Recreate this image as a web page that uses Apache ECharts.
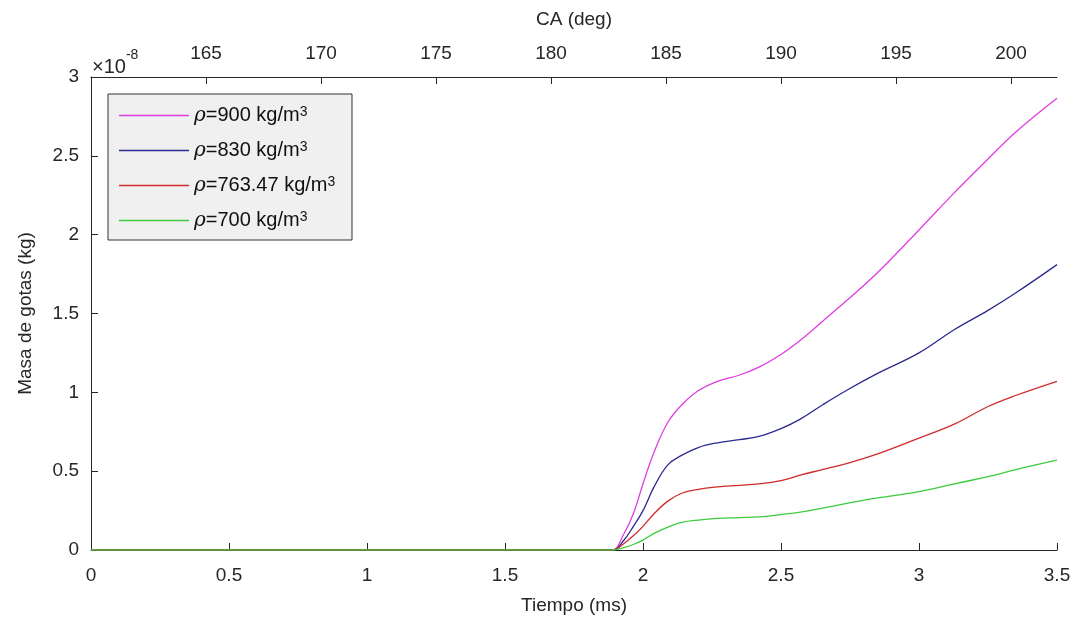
<!DOCTYPE html>
<html>
<head>
<meta charset="utf-8">
<script src="https://cdn.jsdelivr.net/npm/echarts@6/dist/echarts.min.js"></script>
<style>
html, body { margin: 0; padding: 0; background: #fff; }
#chart { width: 1078px; height: 628px; }
</style>
</head>
<body>
<div id="chart"></div>
<script>
// time (ms) and droplet mass, in units of 1e-8 kg
var tiempo = [0, 1.85, 1.89, 1.93, 1.965, 2.0, 2.04, 2.09, 2.14, 2.2, 2.27, 2.35, 2.42, 2.5, 2.57, 2.65, 2.74, 2.85, 3.0, 3.13, 3.25, 3.35, 3.5];
var rho900 = [0, 0, 0, 0.1, 0.23, 0.42, 0.62, 0.81, 0.92, 1.01, 1.07, 1.11, 1.16, 1.24, 1.33, 1.45, 1.585, 1.76, 2.03, 2.27, 2.48, 2.65, 2.865];
var rho830 = [0, 0, 0, 0.06, 0.15, 0.25, 0.40, 0.54, 0.60, 0.65, 0.68, 0.70, 0.72, 0.77, 0.83, 0.92, 1.015, 1.12, 1.25, 1.40, 1.52, 1.63, 1.81];
var rho763 = [0, 0, 0, 0.04, 0.09, 0.15, 0.23, 0.31, 0.36, 0.385, 0.40, 0.41, 0.42, 0.44, 0.475, 0.51, 0.55, 0.61, 0.71, 0.80, 0.91, 0.98, 1.07];
var rho700 = [0, 0, 0, 0.015, 0.035, 0.063, 0.105, 0.145, 0.175, 0.19, 0.20, 0.205, 0.21, 0.225, 0.24, 0.265, 0.296, 0.33, 0.37, 0.42, 0.465, 0.51, 0.57];
var nombres = ['900', '830', '763.47', '700'];
var colores = ['#e03ce0', '#2a2a90', '#d02a2a', '#3ccc3c'];

function pares(ys) {
	var out = [];
	for (var i = 0; i < tiempo.length; i++) out.push([tiempo[i], ys[i]]);
	return out;
}

var txt = '#262626';
var fuente = 'Liberation Sans, Arial, sans-serif';
var myChart = echarts.init(document.getElementById('chart'));

var seriesList = [rho900, rho830, rho763, rho700].map(function (ys, i) {
	return {
		name : nombres[i],
		type : 'line',
		data : pares(ys),
		xAxisIndex : 0,
		symbol : 'none',
		smooth : 0.4,
		lineStyle : { color : colores[i], width : 1.3 },
		itemStyle : { color : colores[i] }
	};
});

option = {
	animation : false,
	textStyle : { fontFamily : fuente },
	grid : { left : 91, top : 77, right : 21, bottom : 78 },
	graphic : [ {
		type : 'rect',
		z : 3,
		shape : { x : 108, y : 94, width : 244, height : 146 },
		style : { fill : '#f0f0f0', stroke : '#333', lineWidth : 1 }
	}, {
		type : 'text',
		left : 92,
		top : 48,
		style : {
			text : '{a|×10}{b|-8}',
			rich : {
				a : { fontSize : 20, fill : txt, fontFamily : fuente, verticalAlign : 'bottom', padding : [9, 0, 0, 0] },
				b : { fontSize : 14, fill : txt, fontFamily : fuente, verticalAlign : 'top' }
			}
		}
	} ],
	legend : {
		orient : 'vertical',
		left : 114,
		top : 100,
		icon : 'rect',
		itemWidth : 70,
		itemHeight : 1.5,
		itemGap : 14,
		z : 5,
		data : nombres,
		formatter : function (n) { return '{i|ρ}=' + n + ' kg/m{s|3}'; },
		textStyle : {
			color : '#111',
			fontSize : 20,
			lineHeight : 21,
			rich : {
				i : { fontStyle : 'italic', fontSize : 20, fontFamily : 'DejaVu Serif', color : '#111' },
				s : { fontSize : 14, verticalAlign : 'top', color : '#111', padding : [0, 0, 12, 0] }
			}
		}
	},
	xAxis : [ {
		type : 'value',
		position : 'bottom',
		min : 0,
		max : 3.5,
		interval : 0.5,
		name : 'Tiempo (ms)',
		nameLocation : 'middle',
		nameGap : 46,
		nameTextStyle : { color : txt, fontSize : 19 },
		axisLine : { lineStyle : { color : txt, width : 1 } },
		axisTick : { inside : true, length : 7, lineStyle : { color : txt } },
		axisLabel : { color : txt, fontSize : 19, margin : 16 },
		splitLine : { show : false }
	}, {
		type : 'value',
		position : 'top',
		min : 160,
		max : 202,
		interval : 5,
		name : 'CA (deg)',
		nameLocation : 'middle',
		nameGap : 48,
		nameTextStyle : { color : txt, fontSize : 19 },
		axisLine : { show : true, onZero : false, lineStyle : { color : txt, width : 1 } },
		axisTick : { inside : true, length : 7, lineStyle : { color : txt } },
		axisLabel : { color : txt, fontSize : 19, margin : 14, showMinLabel : false, showMaxLabel : false,
			formatter : function (v) { return v === 160 ? '' : String(v); } },
		splitLine : { show : false }
	} ],
	yAxis : {
		type : 'value',
		min : 0,
		max : 3,
		interval : 0.5,
		name : 'Masa de gotas (kg)',
		nameLocation : 'middle',
		nameGap : 56,
		nameTextStyle : { color : txt, fontSize : 19 },
		axisLine : { show : true, lineStyle : { color : txt, width : 1 } },
		axisTick : { show : true, inside : true, length : 7, lineStyle : { color : txt } },
		axisLabel : { color : txt, fontSize : 19, margin : 12 },
		splitLine : { show : false }
	},
	series : seriesList
};
myChart.setOption(option);
</script>
</body>
</html>
